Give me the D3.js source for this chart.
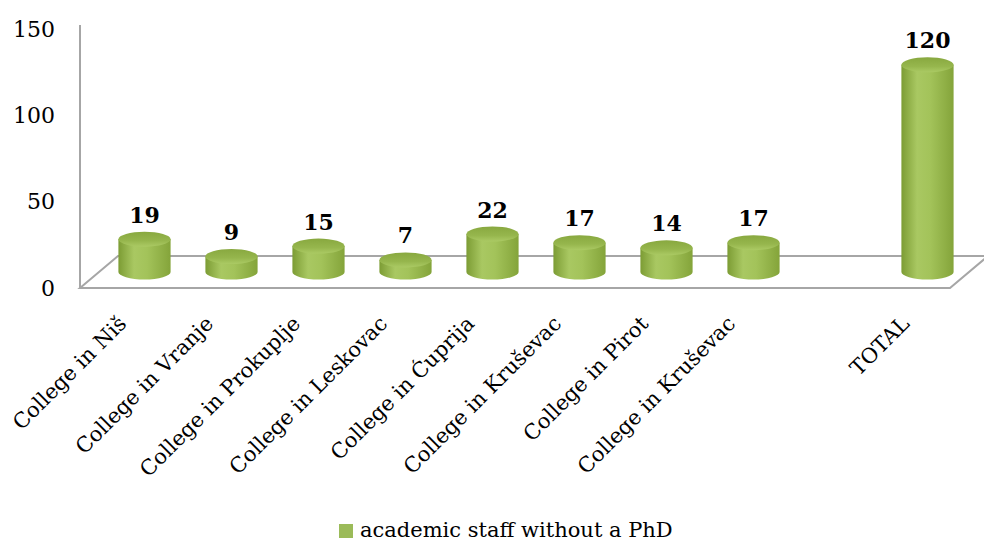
<!DOCTYPE html>
<html>
<head>
<meta charset="utf-8">
<script src="https://cdn.jsdelivr.net/npm/d3@7"></script>
<style>
  body { margin: 0; background: #fff; }
  svg { display: block; }
  text { font-family: "DejaVu Serif", serif; fill: #000; }
</style>
</head>
<body>
<svg id="chart"></svg>
<script>
const categories = ["College in Niš", "College in Vranje", "College in Prokuplje", "College in Leskovac",
  "College in Ćuprija", "College in Kruševac", "College in Pirot", "College in Kruševac", "", "TOTAL"];
const values = [19, 9, 15, 7, 22, 17, 14, 17, null, 120];
const yTicks = [0, 50, 100, 150];
const seriesName = "academic staff without a PhD";

const width = 984, height = 544;
const svg = d3.select('#chart').attr('width', width).attr('height', height);

// floor depth offset (oblique 3d)
const depth = { dx: 38, dy: -32 };

const x = d3.scaleBand()
  .domain(d3.range(categories.length))
  .range([80, 950])
  .paddingInner(0.4)
  .paddingOuter(0.2);

const y = d3.scaleLinear().domain([0, 150]).range([288, 29]);

// gradients
const defs = svg.append('defs');
const bodyGrad = defs.append('linearGradient').attr('id', 'cylBody');
[['0%', '#7c9c34'], ['30%', '#a9c862'], ['55%', '#a3c35a'], ['100%', '#84a43a']].forEach(([o, c]) =>
  bodyGrad.append('stop').attr('offset', o).attr('stop-color', c));
const capGrad = defs.append('linearGradient').attr('id', 'cylTop').attr('x1', 0).attr('y1', 0).attr('x2', 0).attr('y2', 1);
[['0%', '#88a83f'], ['60%', '#96b64d'], ['100%', '#abca64']].forEach(([o, c]) =>
  capGrad.append('stop').attr('offset', o).attr('stop-color', c));

const x0 = x.range()[0], x1 = x.range()[1], y0 = y(0);

// floor
svg.append('path')
  .attr('d', `M${x0},${y0} L${x0 + depth.dx},${y0 + depth.dy} L${x1 + depth.dx},${y0 + depth.dy} L${x1},${y0} Z`)
  .attr('fill', 'none')
  .attr('stroke', '#a6a6a6')
  .attr('stroke-width', 2);

// y axis on the front edge
const yAxis = svg.append('g')
  .attr('transform', `translate(${x0},0)`)
  .call(d3.axisLeft(y).tickValues(yTicks).tickSize(0).tickPadding(25));
yAxis.select('.domain').attr('stroke', '#a6a6a6').attr('stroke-width', 2).attr('d', `M0,${y0}V25`);
yAxis.selectAll('text').attr('font-family', '"DejaVu Serif", serif').attr('font-size', 22).attr('fill', '#000');

// cylinders
const rx = x.bandwidth() / 2, ry = 7.5;
const bars = categories.map((c, i) => ({ i, v: values[i] })).filter(d => d.v != null);

const cyl = svg.append('g').selectAll('g')
  .data(bars)
  .enter()
  .append('g')
  .attr('transform', `translate(${depth.dx / 2 + 2},${depth.dy / 2})`);

cyl.append('path')
  .attr('d', d => {
    const a = x(d.i), b = a + x.bandwidth();
    const yt = y(d.v), yb = y(0);
    return `M${a},${yt} L${a},${yb} A${rx},${ry} 0 0 0 ${b},${yb} L${b},${yt} Z`;
  })
  .attr('fill', 'url(#cylBody)');

cyl.append('ellipse')
  .attr('cx', d => x(d.i) + rx)
  .attr('cy', d => y(d.v))
  .attr('rx', rx)
  .attr('ry', ry)
  .attr('fill', 'url(#cylTop)');

cyl.append('text')
  .attr('x', d => x(d.i) + rx)
  .attr('y', d => y(d.v) - ry - 9)
  .attr('text-anchor', 'middle')
  .attr('font-size', 22)
  .attr('font-weight', 'bold')
  .text(d => d.v);

// category labels
svg.append('g').selectAll('text')
  .data(categories)
  .enter()
  .append('text')
  .attr('transform', (d, i) => `translate(${x(i) + x.bandwidth() / 2 + 4},${y0 + 37}) rotate(-45)`)
  .attr('text-anchor', 'end')
  .attr('font-size', 21)
  .text(d => d);

// legend
const legend = svg.append('g').attr('transform', 'translate(339,524)');
legend.append('rect').attr('width', 14).attr('height', 14).attr('fill', '#9bbb59');
legend.append('text').attr('x', 21).attr('y', 13).attr('font-size', 21).text(seriesName);
</script>
</body>
</html>
